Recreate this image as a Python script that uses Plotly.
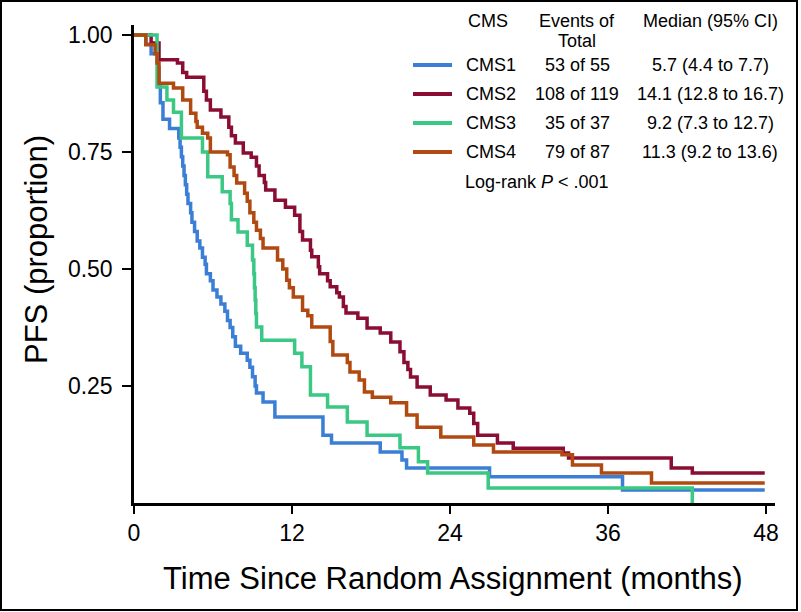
import plotly.graph_objects as go

# ---------------- data ----------------
groups = ["CMS1", "CMS2", "CMS3", "CMS4"]
events_text = ["53 of 55", "108 of 119", "35 of 37", "79 of 87"]
median_text = ["5.7 (4.4 to 7.7)", "14.1 (12.8 to 16.7)", "9.2 (7.3 to 12.7)", "11.3 (9.2 to 13.6)"]
x_ticks = [0, 12, 24, 36, 48]
y_ticks = [0.25, 0.50, 0.75, 1.00]
end_time = 47.9

cms1_t = [0, 0.9, 1.3, 1.8, 1.9, 2.0, 2.2, 2.7, 3.4, 3.5, 3.6, 3.7, 3.8, 3.9, 4.0, 4.1, 4.3, 4.4, 4.6,
          4.8, 5.0, 5.2, 5.4, 5.5, 5.8, 6.0, 6.3, 6.6, 6.9, 7.1, 7.3, 7.5, 7.7, 8.1, 8.6, 8.8, 9.0,
          9.2, 9.3, 9.8, 10.7, 14.35, 15.0, 18.7, 20.35, 20.7, 27.0, 37.1]
cms1_s = [1.0, 0.98, 0.96, 0.93, 0.89, 0.855, 0.82, 0.80, 0.78, 0.76, 0.74, 0.72, 0.70, 0.68, 0.66,
          0.64, 0.62, 0.60, 0.58, 0.56, 0.545, 0.525, 0.51, 0.49, 0.475, 0.455, 0.44, 0.425, 0.41,
          0.39, 0.375, 0.355, 0.335, 0.32, 0.305, 0.29, 0.27, 0.25, 0.235, 0.216, 0.184, 0.145,
          0.128, 0.109, 0.092, 0.075, 0.056, 0.028]

cms2_t = [0, 1.3, 1.9, 3.3, 3.7, 4.0, 5.3, 5.5, 5.8, 6.6, 7.2, 7.4, 7.7, 8.3, 8.9, 9.3, 9.5, 9.9,
          10.0, 10.7, 11.5, 12.2, 12.6, 12.8, 13.4, 13.5, 14.0, 14.1, 14.7, 14.9, 15.4, 15.6, 15.9,
          16.1, 17.0, 17.7, 18.7, 19.5, 20.2, 20.5, 20.8, 21.0, 21.5, 22.5, 23.7, 24.6, 25.5, 25.8,
          26.1, 27.6, 28.8, 32.6, 33.0, 40.8, 42.4]
cms2_s = [1.0, 0.983, 0.947, 0.94, 0.92, 0.91, 0.88, 0.861, 0.84, 0.825, 0.803, 0.785, 0.769, 0.748,
          0.739, 0.72, 0.70, 0.685, 0.669, 0.647, 0.632, 0.615, 0.58, 0.562, 0.54, 0.526, 0.505,
          0.49, 0.475, 0.462, 0.449, 0.44, 0.42, 0.406, 0.395, 0.374, 0.363, 0.344, 0.323, 0.30,
          0.285, 0.269, 0.248, 0.231, 0.22, 0.203, 0.192, 0.17, 0.145, 0.128, 0.117, 0.107, 0.096,
          0.075, 0.064]

cms3_t = [0, 1.75, 2.5, 3.0, 3.6, 5.2, 5.6, 6.7, 7.3, 7.4, 7.9, 8.6, 9.0, 9.1, 9.15, 9.2, 9.25, 9.3,
          9.7, 12.2, 12.75, 13.4, 14.7, 16.2, 17.7, 20.2, 21.6, 22.3, 26.9, 42.4]
cms3_s = [1.0, 0.889, 0.861, 0.835, 0.78, 0.75, 0.697, 0.665, 0.64, 0.605, 0.579, 0.551, 0.519, 0.49,
          0.46, 0.434, 0.405, 0.376, 0.348, 0.32, 0.291, 0.231, 0.205, 0.173, 0.145, 0.118, 0.088,
          0.064, 0.032, 0.0]

cms4_t = [0, 0.9, 1.6, 1.75, 1.9, 3.0, 3.7, 4.3, 4.7, 4.8, 5.2, 5.6, 5.8, 7.1, 7.3, 7.6, 7.8, 8.4,
          8.6, 8.8, 9.1, 9.3, 9.6, 9.8, 10.9, 11.3, 11.6, 11.8, 12.1, 12.8, 13.2, 13.5, 14.9, 15.1,
          16.2, 16.4, 17.1, 17.5, 18.1, 19.5, 20.7, 21.5, 23.3, 25.8, 27.3, 32.5, 33.3, 35.5, 39.3]
cms4_s = [1.0, 0.979, 0.96, 0.94, 0.897, 0.887, 0.861, 0.833, 0.815, 0.803, 0.79, 0.78, 0.75, 0.744,
          0.718, 0.70, 0.684, 0.662, 0.645, 0.62, 0.60, 0.583, 0.565, 0.545, 0.519, 0.50, 0.476,
          0.46, 0.44, 0.412, 0.40, 0.376, 0.345, 0.316, 0.30, 0.28, 0.263, 0.237, 0.226, 0.214,
          0.188, 0.162, 0.141, 0.124, 0.109, 0.103, 0.081, 0.064, 0.043]

series_t = [cms1_t, cms2_t, cms3_t, cms4_t]
series_s = [cms1_s, cms2_s, cms3_s, cms4_s]
colors = ["#3B7ED6", "#8A0E33", "#3BC784", "#B04A10"]

# ---------------- layout geometry (pixels) ----------------
W, H = 801, 612
L, R, T, B = 134, 26, 25, 109
PW, PH = W - L - R, H - T - B

def px(x):
    return (x - L) / PW

def py(y):
    return (H - B - y) / PH

SANS = "Liberation Sans, Arial, Helvetica, sans-serif"

fig = go.Figure()
for name, t, s, c in zip(groups, series_t, series_s, colors):
    tt = list(t) + ([end_time] if s[-1] > 0 else [t[-1]])
    ss = list(s) + [s[-1]]
    fig.add_trace(go.Scatter(x=tt, y=ss, mode="lines", name=name,
                             line=dict(color=c, width=3.5, shape="hv"),
                             showlegend=False, hoverinfo="skip"))

annotations = []
shapes = []

def txt(x, y, text, size=18, anchor="center", family=SANS, angle=0):
    annotations.append(dict(xref="paper", yref="paper", x=px(x), y=py(y), text=text,
                            showarrow=False, xanchor=anchor, yanchor="middle",
                            textangle=angle, font=dict(family=family, size=size, color="black")))

# legend table header
txt(488, 21, "CMS")
txt(577, 21, "Events of")
txt(577, 41, "Total")
txt(710, 21, "Median (95% CI)")
row_y = [65, 94, 123, 152]
for g, e, m, c, ry in zip(groups, events_text, median_text, colors, row_y):
    shapes.append(dict(type="line", xref="paper", yref="paper", x0=px(413), x1=px(452),
                       y0=py(ry), y1=py(ry), line=dict(color=c, width=4)))
    txt(464, ry, g, anchor="left")
    txt(577, ry, e)
    txt(710, ry, m)
txt(463, 182, "Log-rank <i>P</i> &lt; .001", anchor="left")

# axis titles
txt(36, 250, "PFS (proportion)", size=31, angle=-90)
txt(452, 578, "Time Since Random Assignment (months)", size=31)

# outer frame of the figure
shapes.append(dict(type="rect", xref="paper", yref="paper", x0=px(1), x1=px(797),
                   y0=py(610), y1=py(1), line=dict(color="black", width=2), layer="above"))

fig.update_layout(
    width=W, height=H,
    margin=dict(l=L, r=R, t=T, b=B, pad=0),
    paper_bgcolor="white", plot_bgcolor="white",
    annotations=annotations, shapes=shapes,
    xaxis=dict(range=[0, 48.68], tickvals=x_ticks, ticktext=[str(v) for v in x_ticks],
               ticks="outside", ticklen=8, tickwidth=2, tickcolor="black",
               showline=True, linecolor="black", linewidth=2.5,
               showgrid=False, zeroline=False,
               tickfont=dict(family=SANS, size=23, color="black")),
    yaxis=dict(range=[0, 1.0214], tickvals=y_ticks, ticktext=["%.2f" % v for v in y_ticks],
               ticks="outside", ticklen=9, tickwidth=2, tickcolor="black",
               showline=True, linecolor="black", linewidth=2.5,
               showgrid=False, zeroline=False, ticklabelstandoff=5,
               tickfont=dict(family=SANS, size=23, color="black")),
)

fig.write_html("out.html", config={"displayModeBar": False},
               post_script="document.body.style.margin='0px';document.body.style.overflow='hidden';")
